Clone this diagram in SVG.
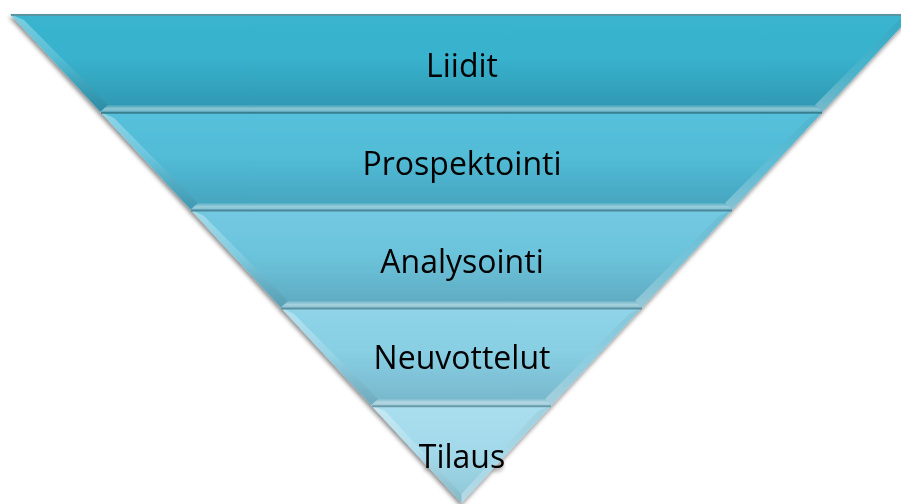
<svg xmlns="http://www.w3.org/2000/svg" width="901" height="504" viewBox="0 0 901 504">
  <defs>
    <style>
      .label { font-family: "Open Sans", "Liberation Sans", sans-serif; font-size: 32px; fill: #000; text-anchor: middle; }
      .topline { stroke-width: 2; fill: none; }
      .facetL { fill: url(#facetLeft); }
      .facetR { fill: url(#facetRight); }
      .stripe { fill: url(#stripe); }
    </style>
    <filter id="shadow" x="-5%" y="-5%" width="110%" height="115%">
      <feDropShadow dx="-1" dy="3" stdDeviation="2" flood-color="#000" flood-opacity="0.45"/>
    </filter>
    <!-- band fills: lighter top, deeper bottom -->
    <linearGradient id="g1" x1="0" y1="0" x2="0" y2="1">
      <stop offset="0" stop-color="#3ab4cf"/>
      <stop offset="0.45" stop-color="#38b2cd"/>
      <stop offset="1" stop-color="#3096b0"/>
    </linearGradient>
    <linearGradient id="g2" x1="0" y1="0" x2="0" y2="1">
      <stop offset="0" stop-color="#55c0db"/>
      <stop offset="0.45" stop-color="#52bcd7"/>
      <stop offset="1" stop-color="#45a3bd"/>
    </linearGradient>
    <linearGradient id="g3" x1="0" y1="0" x2="0" y2="1">
      <stop offset="0" stop-color="#72c9e1"/>
      <stop offset="0.45" stop-color="#6cc4dc"/>
      <stop offset="1" stop-color="#5eaac0"/>
    </linearGradient>
    <linearGradient id="g4" x1="0" y1="0" x2="0" y2="1">
      <stop offset="0" stop-color="#8fd4e9"/>
      <stop offset="0.45" stop-color="#88cfe4"/>
      <stop offset="1" stop-color="#77b6ca"/>
    </linearGradient>
    <linearGradient id="g5" x1="0" y1="0" x2="0" y2="1">
      <stop offset="0" stop-color="#a9deee"/>
      <stop offset="0.5" stop-color="#a2d9ea"/>
      <stop offset="1" stop-color="#8fc6d6"/>
    </linearGradient>
    <!-- bevel facets -->
    <linearGradient id="facetLeft" x1="0" y1="0" x2="0" y2="1">
      <stop offset="0" stop-color="#ffffff" stop-opacity="0.35"/>
      <stop offset="0.5" stop-color="#ffffff" stop-opacity="0.12"/>
      <stop offset="1" stop-color="#000000" stop-opacity="0.06"/>
    </linearGradient>
    <linearGradient id="facetRight" x1="0" y1="0" x2="0" y2="1">
      <stop offset="0" stop-color="#000000" stop-opacity="0.05"/>
      <stop offset="0.6" stop-color="#ffffff" stop-opacity="0.1"/>
      <stop offset="1" stop-color="#ffffff" stop-opacity="0.35"/>
    </linearGradient>
    <linearGradient id="stripe" x1="0" y1="0" x2="0" y2="1">
      <stop offset="0" stop-color="#ffffff" stop-opacity="0.08"/>
      <stop offset="0.55" stop-color="#ffffff" stop-opacity="0.45"/>
      <stop offset="1" stop-color="#ffffff" stop-opacity="0.3"/>
    </linearGradient>
  </defs>

  <rect width="901" height="504" fill="#ffffff"/>

  <g id="funnel" filter="url(#shadow)">
    <!-- Band 1: y 14 to 111.8 -->
    <g id="band-liidit">
      <polygon points="10,14 913,14 822.7,111.8 100.3,111.8" fill="url(#g1)"/>
      <polygon class="facetL" points="10,14 24,20 108,105 100.3,111.8"/>
      <polygon class="facetR" points="913,14 822.7,111.8 815,105 899,20"/>
      <polygon class="stripe" points="108,105 815,105 822.7,111.8 100.3,111.8"/>
      <line class="topline" x1="11" y1="15" x2="912" y2="15" stroke="#5a95a3"/>
      <text class="label" x="462" y="77">Liidit</text>
    </g>
    <!-- Band 2: y 111.8 to 209.6 -->
    <g id="band-prospektointi">
      <polygon points="100.3,111.8 822.7,111.8 732.4,209.6 190.6,209.6" fill="url(#g2)"/>
      <polygon class="facetL" points="100.3,111.8 114,118 198,203 190.6,209.6"/>
      <polygon class="facetR" points="822.7,111.8 732.4,209.6 725,203 809,118"/>
      <polygon class="stripe" points="198,203 725,203 732.4,209.6 190.6,209.6"/>
      <line class="topline" x1="101" y1="112.8" x2="822" y2="112.8" stroke="#397f90"/>
      <text class="label" x="462" y="175">Prospektointi</text>
    </g>
    <!-- Band 3: y 209.6 to 307.4 -->
    <g id="band-analysointi">
      <polygon points="190.6,209.6 732.4,209.6 642.1,307.4 280.9,307.4" fill="url(#g3)"/>
      <polygon class="facetL" points="190.6,209.6 204,216 288,301 280.9,307.4"/>
      <polygon class="facetR" points="732.4,209.6 642.1,307.4 635,301 719,216"/>
      <polygon class="stripe" points="288,301 635,301 642.1,307.4 280.9,307.4"/>
      <line class="topline" x1="191" y1="210.6" x2="732" y2="210.6" stroke="#4a8798"/>
      <text class="label" x="462" y="273">Analysointi</text>
    </g>
    <!-- Band 4: y 307.4 to 405.2 -->
    <g id="band-neuvottelut">
      <polygon points="280.9,307.4 642.1,307.4 551.8,405.2 371.2,405.2" fill="url(#g4)"/>
      <polygon class="facetL" points="280.9,307.4 294,314 378,399 371.2,405.2"/>
      <polygon class="facetR" points="642.1,307.4 551.8,405.2 545,399 629,314"/>
      <polygon class="stripe" points="378,399 545,399 551.8,405.2 371.2,405.2"/>
      <line class="topline" x1="281" y1="308.4" x2="642" y2="308.4" stroke="#5a8f9f"/>
      <text class="label" x="462" y="369">Neuvottelut</text>
    </g>
    <!-- Band 5: y 405.2 to apex 503 -->
    <g id="band-tilaus">
      <polygon points="371.2,405.2 551.8,405.2 461.5,503" fill="url(#g5)"/>
      <polygon class="facetL" points="371.2,405.2 385,411 461.5,494 461.5,503"/>
      <polygon class="facetR" points="551.8,405.2 461.5,503 461.5,494 538,411"/>
      <line class="topline" x1="372" y1="406.2" x2="551" y2="406.2" stroke="#6a9aa9"/>
      <text class="label" x="462" y="468">Tilaus</text>
    </g>
  </g>
</svg>
